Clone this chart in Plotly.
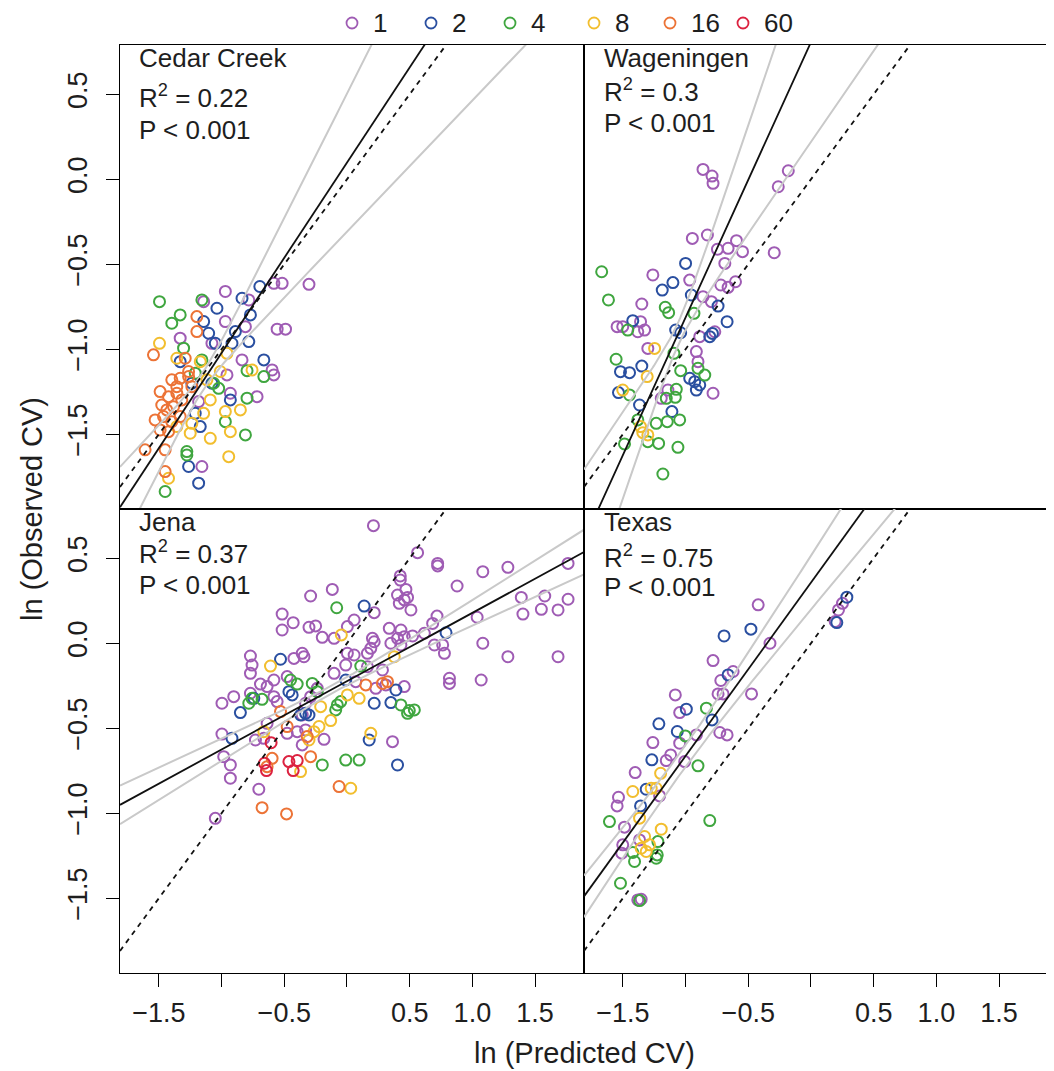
import numpy as np
import plotly.graph_objects as go
from plotly.subplots import make_subplots

# ---------------- data ----------------
SITES = ["Cedar Creek", "Wageningen", "Jena", "Texas"]
R2_TEXT = ["0.22", "0.3", "0.37", "0.75"]
P_TEXT = ["P < 0.001", "P < 0.001", "P < 0.001", "P < 0.001"]
LEVELS = ["1", "2", "4", "8", "16", "60"]
LEVEL_COLORS = ["#9F5CB4", "#2A4FA0", "#3FA63F", "#F2BE2E", "#EC7336", "#DC2240"]

X_RANGE = [-1.81, 1.89]
Y_RANGE = [-1.94, 0.79]
X_TICKS = [-1.5, -0.5, 0.5, 1.0, 1.5]
X_TICK_TEXT = ["\u22121.5", "\u22120.5", "0.5", "1.0", "1.5"]
X_MINOR_TICKS = [-1.0, 0.0]
Y_TICKS = [-1.5, -1.0, -0.5, 0.0, 0.5]
Y_TICK_TEXT = ["\u22121.5", "\u22121.0", "\u22120.5", "0.0", "0.5"]

# Cedar Creek
CEDAR_1 = [(-0.97, -0.66), (-0.583, -0.612), (-0.517, -0.612), (-0.303, -0.618), (-1.143, -0.72),
           (-0.783, -0.71), (-0.97, -0.837), (-0.81, -0.867), (-0.557, -0.882), (-0.49, -0.882),
           (-1.33, -0.935), (-1.077, -0.965), (-0.837, -1.063), (-0.597, -1.122), (-0.583, -1.151),
           (-0.717, -1.279), (-0.957, -1.151), (-1.183, -1.308), (-0.93, -1.259), (-1.157, -1.69)]
CEDAR_2 = [(-0.695, -0.631), (-0.837, -0.7), (-1.037, -0.759), (-0.77, -0.798), (-1.143, -0.837),
           (-0.89, -0.896), (-1.103, -0.906), (-1.05, -0.965), (-0.917, -0.965), (-0.783, -0.955),
           (-0.663, -1.063), (-1.33, -1.073), (-1.077, -1.2), (-1.237, -1.2), (-0.93, -1.298),
           (-1.21, -1.377), (-1.17, -1.455), (-1.263, -1.69), (-1.183, -1.788)]
CEDAR_4 = [(-1.495, -0.72), (-1.157, -0.71), (-1.33, -0.798), (-1.397, -0.847), (-1.303, -0.994),
           (-1.157, -1.063), (-1.21, -1.141), (-0.797, -1.126), (-0.663, -1.161), (-1.063, -1.2),
           (-1.023, -1.23), (-0.797, -1.288), (-0.97, -1.426), (-0.81, -1.504), (-1.277, -1.602),
           (-1.277, -1.622), (-1.45, -1.837)]
CEDAR_8 = [(-1.495, -0.965), (-1.357, -1.053), (-1.17, -1.073), (-0.957, -1.024), (-0.757, -1.122),
           (-1.01, -1.131), (-1.117, -1.18), (-1.09, -1.298), (-0.97, -1.367), (-0.85, -1.357),
           (-1.143, -1.377), (-1.237, -1.436), (-1.25, -1.494), (-1.09, -1.524), (-0.93, -1.485),
           (-0.943, -1.632), (-1.423, -1.759), (-1.357, -1.455)]
CEDAR_16 = [(-1.543, -1.033), (-1.197, -0.808), (-1.197, -0.896), (-1.29, -1.053), (-1.397, -1.18),
            (-1.33, -1.171), (-1.263, -1.161), (-1.49, -1.249), (-1.423, -1.279), (-1.357, -1.259),
            (-1.317, -1.298), (-1.477, -1.328), (-1.437, -1.357), (-1.383, -1.338), (-1.53, -1.416),
            (-1.463, -1.396), (-1.397, -1.426), (-1.49, -1.475), (-1.423, -1.485), (-1.33, -1.396),
            (-1.61, -1.592), (-1.45, -1.592), (-1.45, -1.72), (-1.263, -1.131), (-1.237, -1.22),
            (-1.357, -1.22)]
CEDAR_60 = []

# Wageningen
WAG_1 = [(-0.861, 0.058), (-0.789, 0.019), (-0.781, -0.024), (-0.181, 0.05), (-0.261, -0.044),
         (-0.946, -0.348), (-0.826, -0.328), (-0.594, -0.361), (-0.746, -0.412), (-0.661, -0.406),
         (-0.546, -0.426), (-0.293, -0.432), (-0.687, -0.495), (-1.261, -0.563), (-0.602, -0.603),
         (-0.719, -0.622), (-0.661, -0.636), (-0.967, -0.593), (-0.861, -0.691), (-0.794, -0.72),
         (-1.349, -0.734), (-1.546, -0.867), (-1.501, -0.867), (-1.359, -0.838), (-1.381, -0.897),
         (-1.327, -0.887), (-0.887, -0.926), (-0.767, -0.897), (-1.301, -0.995), (-0.914, -1.014),
         (-0.901, -1.073), (-1.141, -1.24), (-0.781, -1.259), (-1.194, -1.289)]
WAG_2 = [(-1.0, -0.495), (-1.186, -0.652), (-1.101, -0.608), (-0.954, -0.681), (-0.741, -0.746),
         (-0.669, -0.838), (-1.421, -0.832), (-1.079, -0.887), (-1.039, -0.903), (-0.807, -0.926),
         (-0.786, -0.907), (-1.519, -1.132), (-1.447, -1.138), (-1.349, -1.099), (-0.967, -1.171),
         (-0.927, -1.191), (-0.887, -1.21), (-0.914, -1.24), (-1.535, -1.255), (-1.367, -1.328),
         (-1.109, -1.367)]
WAG_4 = [(-1.669, -0.544), (-1.615, -0.71), (-1.162, -0.753), (-1.135, -0.785), (-0.933, -0.789),
         (-1.461, -0.887), (-1.093, -1.024), (-1.554, -1.059), (-1.039, -1.126), (-0.901, -1.112),
         (-0.847, -1.152), (-1.447, -1.269), (-1.074, -1.236), (-1.154, -1.289), (-1.082, -1.283),
         (-1.047, -1.416), (-1.146, -1.426), (-1.234, -1.436), (-1.381, -1.416), (-1.215, -1.554),
         (-1.301, -1.544), (-1.487, -1.557), (-1.061, -1.577), (-1.181, -1.734)]
WAG_8 = [(-1.247, -0.995), (-1.306, -1.161), (-1.501, -1.24), (-1.359, -1.455), (-1.301, -1.504),
         (-1.341, -1.491)]
WAG_16 = []
WAG_60 = []

# Jena
JENA_1 = [(0.211, 0.692), (0.563, 0.533), (0.723, 0.47), (0.723, 0.455), (1.083, 0.421), (1.283, 0.447),
          (1.763, 0.47), (0.425, 0.396), (0.425, 0.372), (0.47, 0.317), (0.878, 0.337), (-0.29, 0.278),
          (-0.117, 0.317), (0.403, 0.284), (0.457, 0.255), (0.483, 0.27), (1.39, 0.27), (1.577, 0.278),
          (1.763, 0.259), (0.417, 0.235), (0.51, 0.196), (1.55, 0.2), (1.683, 0.196), (1.403, 0.172),
          (-0.517, 0.172), (-0.429, 0.121), (-0.303, 0.094), (-0.25, 0.102), (-0.517, 0.078),
          (-0.197, 0.035), (-0.103, 0.029), (0.003, 0.098), (0.057, 0.137), (0.217, 0.18), (0.337, 0.088),
          (0.43, 0.078), (0.403, 0.029), (0.457, 0.039), (0.523, 0.043), (0.617, 0.059), (0.683, 0.117),
          (0.718, 0.16), (1.038, 0.153), (0.203, 0.029), (0.217, 0.009), (0.19, -0.03), (0.35, 0.0),
          (0.43, -0.01), (0.697, -0.01), (0.763, -0.01), (0.777, -0.059), (1.083, 0.0), (1.283, -0.079),
          (1.683, -0.079), (-0.357, -0.059), (-0.343, -0.079), (-0.423, -0.089), (0.003, -0.059),
          (0.057, -0.069), (0.163, -0.059), (-0.77, -0.075), (-0.757, -0.128), (-0.77, -0.177),
          (-0.01, -0.128), (-0.103, -0.177), (0.283, -0.157), (0.817, -0.206), (0.817, -0.236),
          (1.07, -0.216), (-0.583, -0.216), (-0.477, -0.196), (-0.69, -0.24), (-0.637, -0.255),
          (-0.77, -0.294), (-0.903, -0.314), (-0.997, -0.353), (-0.583, -0.314), (-0.557, -0.343),
          (0.07, -0.226), (0.23, -0.265), (0.457, -0.255), (0.31, -0.245), (-0.33, -0.353),
          (-0.357, -0.422), (-0.33, -0.51), (-0.637, -0.471), (-0.663, -0.559), (-0.73, -0.569),
          (-0.477, -0.53), (-0.397, -0.52), (-0.357, -0.598), (-0.183, -0.565), (-0.997, -0.534),
          (-0.983, -0.667), (-0.93, -0.716), (-0.93, -0.794), (-0.703, -0.859), (-1.05, -1.03),
          (0.363, -0.579), (-0.29, -0.314), (-0.237, -0.265), (0.163, -0.138)]
JENA_2 = [(0.137, 0.219), (0.79, 0.062), (-0.53, -0.094), (-0.463, -0.285), (-0.437, -0.304),
          (-0.743, -0.324), (-0.85, -0.408), (-0.33, -0.412), (-0.303, -0.422), (-0.37, -0.422),
          (-0.01, -0.216), (0.39, -0.275), (0.217, -0.353), (0.35, -0.349), (-0.917, -0.559),
          (0.177, -0.569), (0.403, -0.716)]
JENA_4 = [(-0.082, 0.209), (0.11, -0.134), (-0.45, -0.216), (-0.277, -0.236), (-0.397, -0.24),
          (-0.237, -0.285), (-0.757, -0.324), (-0.677, -0.33), (-0.783, -0.353), (-0.077, -0.363),
          (-0.05, -0.343), (-0.09, -0.392), (0.43, -0.363), (0.497, -0.396), (0.537, -0.392),
          (0.483, -0.412), (-0.197, -0.716), (-0.01, -0.687), (0.097, -0.687)]
JENA_8 = [(-0.045, 0.049), (-0.61, -0.134), (0.377, -0.079), (0.003, -0.304), (0.097, -0.324),
          (-0.21, -0.373), (-0.13, -0.455), (-0.223, -0.49), (-0.263, -0.52), (-0.663, -0.52),
          (0.19, -0.53), (-0.303, -0.569), (0.03, -0.853), (-0.37, -0.755)]
JENA_16 = [(0.323, -0.226), (0.15, -0.245), (-0.53, -0.402), (-0.477, -0.49), (-0.317, -0.549),
           (-0.29, -0.667), (-0.597, -0.677), (-0.637, -0.726), (-0.063, -0.843), (-0.677, -0.967),
           (-0.482, -1.004), (0.283, -0.236)]
JENA_60 = [(-0.605, -0.585), (-0.658, -0.706), (-0.642, -0.749), (-0.463, -0.696), (-0.397, -0.69),
           (-0.429, -0.749)]

# Texas
TEX_1 = [(-0.421, 0.226), (-0.327, 0.0), (-0.781, -0.102), (-0.719, -0.219), (-0.621, -0.166),
         (-0.741, -0.298), (-0.701, -0.298), (-0.474, -0.298), (-1.082, -0.304), (-1.047, -0.408),
         (-0.914, -0.539), (-0.727, -0.525), (-0.669, -0.539), (-1.261, -0.584), (-1.047, -0.588),
         (-1.119, -0.657), (-1.154, -0.69), (-1.007, -0.696), (-1.402, -0.761), (-1.535, -0.906),
         (-1.546, -0.957), (-1.207, -0.898), (-1.487, -1.082), (-1.367, -1.157), (-1.501, -1.186),
         (-1.509, -1.235), (-1.381, -1.51), (-1.354, -1.506), (0.219, 0.196), (0.251, 0.235),
         (0.193, 0.128)]
TEX_2 = [(-0.693, 0.043), (-0.479, 0.083), (-0.661, -0.186), (-0.994, -0.388), (-1.213, -0.474),
         (-1.066, -0.519), (-1.269, -0.686), (-1.314, -0.859), (-1.359, -0.957), (0.286, 0.271),
         (0.206, 0.122), (-0.789, -0.451)]
TEX_4 = [(-0.834, -0.382), (-1.002, -0.545), (-0.901, -0.721), (-1.607, -1.049), (-0.807, -1.043),
         (-1.221, -1.167), (-1.226, -1.245), (-1.421, -1.231), (-1.407, -1.284), (-1.234, -1.265),
         (-1.519, -1.412), (-1.367, -1.514)]
TEX_8 = [(-1.199, -0.765), (-1.421, -0.872), (-1.274, -0.853), (-1.234, -0.853), (-1.367, -1.029),
         (-1.194, -1.094), (-1.327, -1.137), (-1.287, -1.186), (-1.354, -1.206), (-1.314, -1.225)]
TEX_16 = []
TEX_60 = []

# regression fits and confidence bands
FIT_INTERCEPT = [0.098, 0.807, -0.223, 0.357]
FIT_SLOPE = [1.12, 1.62, 0.402, 1.02]
BAND_CENTER = [-1.15, -1.06, -0.10, -1.05]
BAND_SLOPE = [0.35, 0.55, 0.065, 0.138]
BAND_MIN = [0.15, 0.12, 0.35, 0.456]

SITE_DATA = {
    "Cedar Creek": [CEDAR_1, CEDAR_2, CEDAR_4, CEDAR_8, CEDAR_16, CEDAR_60],
    "Wageningen": [WAG_1, WAG_2, WAG_4, WAG_8, WAG_16, WAG_60],
    "Jena": [JENA_1, JENA_2, JENA_4, JENA_8, JENA_16, JENA_60],
    "Texas": [TEX_1, TEX_2, TEX_4, TEX_8, TEX_16, TEX_60],
}

# ---------------- figure ----------------
# the page body adds an 8px offset; sizes below compensate for it
OFF = 8
W, H = 1054 - OFF, 1071 - OFF
ML, MR, MT, MB = 120 - OFF, 6, 45 - OFF, 98
PW = W - ML - MR
PH = H - MT - MB
FONT = "Liberation Sans, Arial, Helvetica, sans-serif"
TXT = "#1e1e1e"


def px_x(p):
    # p: pixel position in the window
    return (p - OFF - ML) / PW


def px_y(p):
    return (H - MB - (p - OFF)) / PH


fig = make_subplots(rows=2, cols=2, horizontal_spacing=0, vertical_spacing=0)
POS = [(1, 1), (1, 2), (2, 1), (2, 2)]

for i, site in enumerate(SITES):
    r, c = POS[i]
    for lev, col, pts in zip(LEVELS, LEVEL_COLORS, SITE_DATA[site]):
        if not pts:
            continue
        fig.add_trace(go.Scatter(
            x=[p[0] for p in pts], y=[p[1] for p in pts], mode="markers", name=lev,
            showlegend=False,
            marker=dict(symbol="circle-open", size=11, color=col, line=dict(width=2, color=col))),
            row=r, col=c)
    xg = np.linspace(X_RANGE[0], X_RANGE[1], 300)
    yhat = FIT_INTERCEPT[i] + FIT_SLOPE[i] * xg
    half = BAND_SLOPE[i] * np.sqrt(BAND_MIN[i] ** 2 + (xg - BAND_CENTER[i]) ** 2)
    for yy in (yhat + half, yhat - half):
        fig.add_trace(go.Scatter(x=xg, y=yy, mode="lines", showlegend=False, hoverinfo="skip",
                                 line=dict(color="#C9C9C9", width=2)), row=r, col=c)
    fig.add_trace(go.Scatter(x=xg, y=xg, mode="lines", showlegend=False, hoverinfo="skip",
                             line=dict(color="#111111", width=1.8, dash="5px,5px")), row=r, col=c)
    fig.add_trace(go.Scatter(x=xg, y=yhat, mode="lines", showlegend=False, hoverinfo="skip",
                             line=dict(color="#111111", width=1.8)), row=r, col=c)

    bottom = (r == 2)
    left = (c == 1)
    fig.update_xaxes(range=X_RANGE, showline=True, mirror=True, linecolor="black", linewidth=1.3,
                     showgrid=False, zeroline=False, tickmode="array",
                     tickvals=X_TICKS, ticktext=X_TICK_TEXT,
                     ticks="outside" if bottom else "", ticklen=13, tickwidth=1.3, tickcolor="black",
                     showticklabels=bottom, ticklabelstandoff=2,
                     minor=dict(tickmode="array", tickvals=X_MINOR_TICKS,
                                ticks="outside" if bottom else "", ticklen=13, tickwidth=1.3,
                                tickcolor="black", showgrid=False),
                     tickfont=dict(family=FONT, size=27, color=TXT), row=r, col=c)
    fig.update_yaxes(range=Y_RANGE, showline=True, mirror=True, linecolor="black", linewidth=1.3,
                     showgrid=False, zeroline=False, tickmode="array",
                     tickvals=Y_TICKS, ticktext=Y_TICK_TEXT,
                     ticks="outside" if left else "", ticklen=13, tickwidth=1.3, tickcolor="black",
                     showticklabels=left, tickangle=-90, ticklabelstandoff=8,
                     tickfont=dict(family=FONT, size=27, color=TXT), row=r, col=c)

# panel texts
TEXT_X = [137, 602, 137, 602]
TEXT_Y = [(58, 97, 130), (58, 90, 123), (522, 552, 585), (522, 556, 587)]
ann = []
for i, site in enumerate(SITES):
    lines = [site, "R<sup>2</sup> = " + R2_TEXT[i], P_TEXT[i]]
    for t, yp in zip(lines, TEXT_Y[i]):
        ann.append(dict(text=t, x=px_x(TEXT_X[i]), y=px_y(yp), xref="paper", yref="paper",
                        xanchor="left", yanchor="middle", showarrow=False,
                        font=dict(family=FONT, size=26, color=TXT)))

# axis titles
ann.append(dict(text="ln (Predicted CV)", x=px_x(584), y=px_y(1053), xref="paper", yref="paper",
                xanchor="center", yanchor="middle", showarrow=False,
                font=dict(family=FONT, size=29, color=TXT)))
ann.append(dict(text="ln (Observed CV)", x=px_x(32), y=px_y(509), xref="paper", yref="paper",
                xanchor="center", yanchor="middle", showarrow=False, textangle=-90,
                font=dict(family=FONT, size=29, color=TXT)))

# legend (top, horizontal)
LEG_CX = [352, 431, 510, 594, 670, 743]
LEG_Y = 23
shapes = []
for lev, col, cx in zip(LEVELS, LEVEL_COLORS, LEG_CX):
    shapes.append(dict(type="circle", xref="paper", yref="paper", xsizemode="pixel", ysizemode="pixel",
                       xanchor=px_x(cx), yanchor=px_y(LEG_Y), x0=-5.5, x1=5.5, y0=-5.5, y1=5.5,
                       line=dict(color=col, width=1.8), fillcolor="rgba(0,0,0,0)"))
    ann.append(dict(text=lev, x=px_x(cx + 20), y=px_y(LEG_Y), xref="paper", yref="paper",
                    xanchor="left", yanchor="middle", showarrow=False, borderpad=0,
                    font=dict(family=FONT, size=26, color=TXT)))

fig.update_layout(width=W, height=H, margin=dict(l=ML, r=MR, t=MT, b=MB, autoexpand=False),
                  paper_bgcolor="white", plot_bgcolor="white", showlegend=False,
                  annotations=ann, shapes=shapes)

fig.write_html("out.html")
